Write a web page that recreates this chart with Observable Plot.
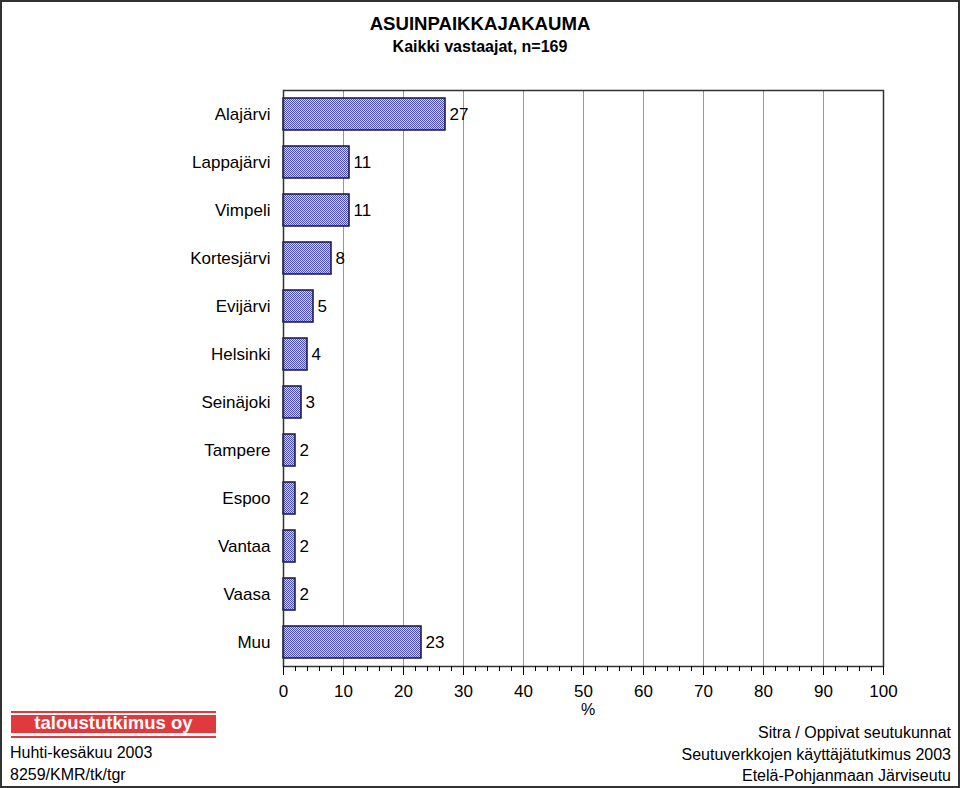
<!DOCTYPE html>
<html>
<head>
<meta charset="utf-8">
<script src="https://cdn.jsdelivr.net/npm/d3@7"></script>
<script src="https://cdn.jsdelivr.net/npm/@observablehq/plot@0.6"></script>
<style>
  html, body { margin: 0; padding: 0; background: white; }
  #wrap { position: relative; width: 960px; height: 788px; overflow: hidden; font-family: "Liberation Sans", Arial, sans-serif; color: #000; }
  #wrap svg { position: absolute; left: 0; top: 0; }
  .ov { position: absolute; white-space: nowrap; line-height: 1; }
  #border { position: absolute; left: 0; top: 0; width: 956px; height: 784px; border: 2px solid #333; pointer-events: none; }
</style>
</head>
<body>
<div id="wrap"></div>
<script>
const categories = ["Alajärvi", "Lappajärvi", "Vimpeli", "Kortesjärvi", "Evijärvi", "Helsinki", "Seinäjoki", "Tampere", "Espoo", "Vantaa", "Vaasa", "Muu"];
const values = [27, 11, 11, 8, 5, 4, 3, 2, 2, 2, 2, 23];
const majorTicks = [0, 10, 20, 30, 40, 50, 60, 70, 80, 90, 100];
const minorTicks = d3.range(0, 101, 2);
const gridTicks = [10, 20, 30, 40, 50, 60, 70, 80, 90];
const titleText = "ASUINPAIKKAJAKAUMA";
const subtitleText = "Kaikki vastaajat, n=169";
const axisLabel = "%";
const footLeft = ["Huhti-kesäkuu 2003", "8259/KMR/tk/tgr"];
const footRight = ["Sitra / Oppivat seutukunnat", "Seutuverkkojen käyttäjätutkimus 2003", "Etelä-Pohjanmaan Järviseutu"];
const logoText = "taloustutkimus oy";

const data = categories.map((c, i) => ({name: c, value: values[i]}));

const svg = Plot.plot({
  width: 960,
  height: 788,
  marginLeft: 283,
  marginRight: 77,
  marginTop: 90,
  marginBottom: 122,
  style: {fontFamily: "Liberation Sans, Arial, sans-serif", fontSize: "17px", background: "transparent", color: "#000"},
  x: {domain: [0, 100]},
  y: {domain: categories, paddingInner: 1/3, paddingOuter: 1/6},
  marks: [
    Plot.gridX({ticks: gridTicks, stroke: "#999", strokeOpacity: 1, strokeWidth: 1}),
    Plot.barX(data, {x: "value", y: "name", fill: "url(#chk)", stroke: "#15153a", strokeWidth: 1.5}),
    Plot.text(data, {x: "value", y: "name", text: d => String(d.value), textAnchor: "start", dx: 4, fontSize: 17}),
    Plot.frame({stroke: "#333", strokeWidth: 1.5}),
    Plot.axisX({ticks: minorTicks, tickSize: 5, tickFormat: () => "", label: null}),
    Plot.axisX({ticks: majorTicks, tickSize: 9, tickPadding: 9, tickFormat: d => String(d), label: null, fontSize: 17}),
    Plot.axisY({tickSize: 0, tickPadding: 13, label: null, fontSize: 17})
  ]
});

const defs = d3.select(svg).insert("defs", ":first-child");
const pat = defs.append("pattern").attr("id", "chk").attr("width", 2).attr("height", 2).attr("patternUnits", "userSpaceOnUse");
pat.append("rect").attr("width", 2).attr("height", 2).attr("fill", "#d6d6ff");
pat.append("rect").attr("x", 0).attr("y", 0).attr("width", 1).attr("height", 1).attr("fill", "#4c4cc2");
pat.append("rect").attr("x", 1).attr("y", 1).attr("width", 1).attr("height", 1).attr("fill", "#4c4cc2");

const wrap = document.getElementById("wrap");
wrap.appendChild(svg);

function addText(txt, style) {
  const d = document.createElement("div");
  d.className = "ov";
  d.textContent = txt;
  Object.assign(d.style, style);
  wrap.appendChild(d);
  return d;
}

addText(titleText, {left: "0px", width: "960px", textAlign: "center", top: "15px", fontSize: "18.6px", fontWeight: "bold"});
addText(subtitleText, {left: "0px", width: "960px", textAlign: "center", top: "39px", fontSize: "16px", fontWeight: "bold"});
addText(axisLabel, {left: "578px", width: "20px", textAlign: "center", top: "702px", fontSize: "16px"});

// logo
const logo = document.createElement("div");
Object.assign(logo.style, {position: "absolute", left: "11px", top: "711px", width: "205px", height: "27px"});
logo.innerHTML = '<div style="position:absolute;left:0;top:0;width:205px;height:2px;background:#e03a3e"></div>' +
  '<div style="position:absolute;left:0;top:4px;width:205px;height:18px;background:#e03a3e"></div>' +
  '<div style="position:absolute;left:0;top:25px;width:205px;height:2px;background:#e03a3e"></div>';
wrap.appendChild(logo);
addText(logoText, {left: "11px", width: "205px", textAlign: "center", top: "714px", fontSize: "18.5px", fontWeight: "bold", color: "#fff"});

footLeft.forEach((t, i) => addText(t, {left: "10px", top: (745 + i * 22) + "px", fontSize: "16px"}));
footRight.forEach((t, i) => addText(t, {right: "9px", textAlign: "right", top: (725 + i * 21.5) + "px", fontSize: "16px"}));

const b = document.createElement("div");
b.id = "border";
wrap.appendChild(b);
</script>
</body>
</html>
